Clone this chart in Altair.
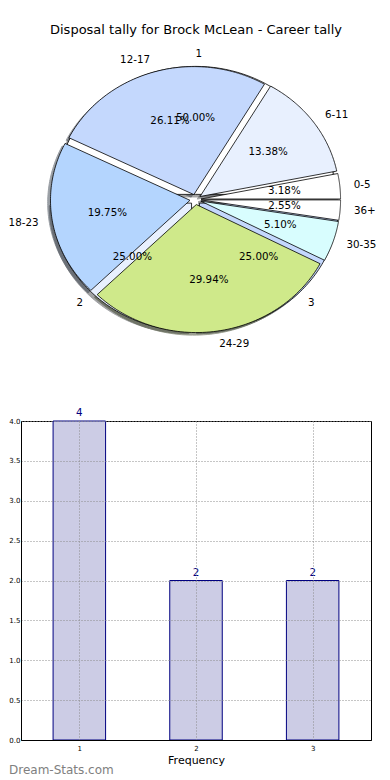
import altair as alt
import pandas as pd

# ---------------- data ----------------
TITLE = "Disposal tally for Brock McLean - Career tally"

age_labels = ["0-5", "6-11", "12-17", "18-23", "24-29", "30-35", "36+"]
age_counts = [5, 21, 41, 31, 47, 8, 4]
age_colors = ["#FFFFFF", "#E8F0FE", "#C4D8FD", "#B4D5FE", "#CFE98A", "#D8FDFE", "#FFFFFF"]

freq_labels = ["1", "2", "3"]
freq_counts = [4, 2, 2]
freq_colors = ["#FFFFFF", "#E8F0FE", "#C4D8FD"]

bar_values = [1, 2, 3]
bar_counts = [4, 2, 2]
y_ticks = [0.0, 0.5, 1.0, 1.5, 2.0, 2.5, 3.0, 3.5, 4.0]
x_ticks = [1, 2, 3]
X_TITLE = "Frequency"
WATERMARK = "Dream-Stats.com"

# ---------------- layout ----------------
PL = 20          # page x of plot left edge
PR = 370         # page x of plot right edge
W = PR - PL
H1 = 400
H2 = 319
GAP = 421 - 8 - H1
CX, CY = 194.5, 199.5
RX, RY = 139.5, 128.0
X_DOM = [-(CX - PL) / RX, (PR - CX) / RX]
Y_DOM = [(CY - 8 - H1) / RY, (CY - 8) / RY]
EXPLODE = 0.04
SHADOW = -0.02
N = 72
FS = 10.3


def darken(h, f=0.3):
    r, g, b = int(h[1:3], 16), int(h[3:5], 16), int(h[5:7], 16)
    return "#%02x%02x%02x" % (round(r * f), round(g * f), round(b * f))


def pie_df(labels, counts, colors):
    return pd.DataFrame({
        "label": labels,
        "value": counts,
        "color": colors,
        "shadow": [darken(c) for c in colors],
        "order": list(range(len(labels))),
    })


age_df = pie_df(age_labels, age_counts, age_colors)
freq_df = pie_df(freq_labels, freq_counts, freq_colors)


def sx(field):
    return alt.X(field, scale=alt.Scale(domain=X_DOM, nice=False, zero=False), axis=None)


def sy(field):
    return alt.Y(field, scale=alt.Scale(domain=Y_DOM, nice=False, zero=False), axis=None)


def pie_base(df):
    return (
        alt.Chart(df)
        .transform_joinaggregate(total="sum(value)")
        .transform_window(cum="sum(value)", sort=[alt.SortField("order")], frame=[None, 0])
        .transform_calculate(a0="2*PI*(datum.cum-datum.value)/datum.total")
        .transform_calculate(a1="2*PI*datum.cum/datum.total")
        .transform_calculate(mid="(datum.a0+datum.a1)/2")
        .transform_calculate(ox=f"{EXPLODE}*cos(datum.mid)")
        .transform_calculate(oy=f"{EXPLODE}*sin(datum.mid)")
    )


def wedges(df, shadow=False):
    d = SHADOW if shadow else 0.0
    b = (
        pie_base(df)
        .transform_calculate(k=f"sequence(0, {N + 3})")
        .transform_flatten(["k"])
        .transform_calculate(f=f"clamp((datum.k-1)/{N}, 0, 1)")
        .transform_calculate(ang="datum.a0 + (datum.a1-datum.a0)*datum.f")
        .transform_calculate(rr=f"(datum.k==0 || datum.k=={N + 2}) ? 0 : 1")
        .transform_calculate(px=f"datum.ox + datum.rr*cos(datum.ang) + ({d})")
        .transform_calculate(py=f"datum.oy + datum.rr*sin(datum.ang) + ({d})")
    )
    if shadow:
        return b.mark_line(filled=True, opacity=0.5, strokeWidth=1).encode(
            x=sx("px:Q"), y=sy("py:Q"), order=alt.Order("k:Q"), detail="label:N",
            fill=alt.Fill("shadow:N", scale=None),
            stroke=alt.Stroke("shadow:N", scale=None),
        )
    return b.mark_line(filled=True, stroke="black", strokeWidth=0.8).encode(
        x=sx("px:Q"), y=sy("py:Q"), order=alt.Order("k:Q"), detail="label:N",
        fill=alt.Fill("color:N", scale=None),
    )


def texts(df):
    b = (
        pie_base(df)
        .transform_calculate(lx="datum.ox + 1.1*cos(datum.mid)")
        .transform_calculate(ly="datum.oy + 1.1*sin(datum.mid)")
        .transform_calculate(tx="datum.ox + 0.6*cos(datum.mid)")
        .transform_calculate(ty="datum.oy + 0.6*sin(datum.mid)")
        .transform_calculate(pct="format(100*datum.value/datum.total, '.2f') + '%'")
    )
    left = b.transform_filter("datum.lx > 0").mark_text(
        align="left", baseline="middle", fontSize=FS, color="black"
    ).encode(x=sx("lx:Q"), y=sy("ly:Q"), text="label:N")
    right = b.transform_filter("datum.lx <= 0").mark_text(
        align="right", baseline="middle", fontSize=FS, color="black"
    ).encode(x=sx("lx:Q"), y=sy("ly:Q"), text="label:N")
    pct = b.mark_text(align="center", baseline="middle", fontSize=FS, color="black").encode(
        x=sx("tx:Q"), y=sy("ty:Q"), text="pct:N"
    )
    return [left, right, pct]


title_layer = alt.Chart(pd.DataFrame({"t": [TITLE]})).mark_text(
    align="center", baseline="middle", fontSize=13, color="black"
).encode(x=alt.value(195 - PL), y=alt.value(30 - 8), text="t:N")

pie = alt.layer(
    wedges(freq_df, shadow=True),
    wedges(age_df, shadow=True),
    wedges(freq_df),
    wedges(age_df),
    *texts(freq_df),
    *texts(age_df),
    title_layer,
).properties(width=W, height=H1)

# ---------------- bar chart ----------------
bar_df = pd.DataFrame({"value": bar_values, "count": bar_counts})

GRID = dict(grid=True, gridDash=[1, 2], gridColor="#8c8c8c", gridWidth=1,
            domainColor="black", zindex=1, ticks=False, tickSize=0,
            labelColor="black", labelFontSize=7, labelOverlap=False)

X_AXIS = alt.Axis(values=x_ticks, format="d", title=X_TITLE, titleFontSize=11,
                  titleFontWeight="normal", labelPadding=4, titlePadding=3,
                  titleColor="black", **GRID)
Y_AXIS = alt.Axis(values=y_ticks, format=".1f", title=None, labelPadding=1, **GRID)
X_SCALE = alt.Scale(domain=[0.5, 3.5], nice=False, zero=False)
Y_SCALE = alt.Scale(domain=[0, 4], nice=False, zero=True)

bars = alt.Chart(bar_df).transform_calculate(
    x0="datum.value - 0.225", x1="datum.value + 0.225"
).mark_bar(fill="#CCCCE5", stroke="#000080", strokeWidth=1).encode(
    x=alt.X("x0:Q", scale=X_SCALE, axis=X_AXIS),
    x2="x1:Q",
    y=alt.Y("count:Q", scale=Y_SCALE, axis=Y_AXIS),
    y2=alt.datum(0),
)

bar_text = alt.Chart(bar_df).mark_text(
    align="center", baseline="alphabetic", dy=-5, fontSize=FS, color="#000080"
).encode(
    x=alt.X("value:Q", scale=X_SCALE, axis=X_AXIS),
    y=alt.Y("count:Q", scale=Y_SCALE, axis=Y_AXIS),
    text="count:Q",
)

wm = alt.Chart(pd.DataFrame({"t": [WATERMARK]})).mark_text(
    align="left", baseline="middle", fontSize=12, color="#808080"
).encode(x=alt.value(8 - PL), y=alt.value(770 - 421), text="t:N")

bar_chart = alt.layer(bars, bar_text, wm).properties(
    width=W, height=H2,
    view=alt.ViewBackground(stroke="black", strokeOpacity=1, strokeWidth=1),
)

chart = (
    alt.vconcat(pie, bar_chart, spacing=GAP, bounds="flush")
    .properties(padding=0)
    .configure(font="DejaVu Sans")
    .configure_view(strokeOpacity=0)
)

chart.save("out.html", embed_options={"renderer": "svg", "actions": False})
